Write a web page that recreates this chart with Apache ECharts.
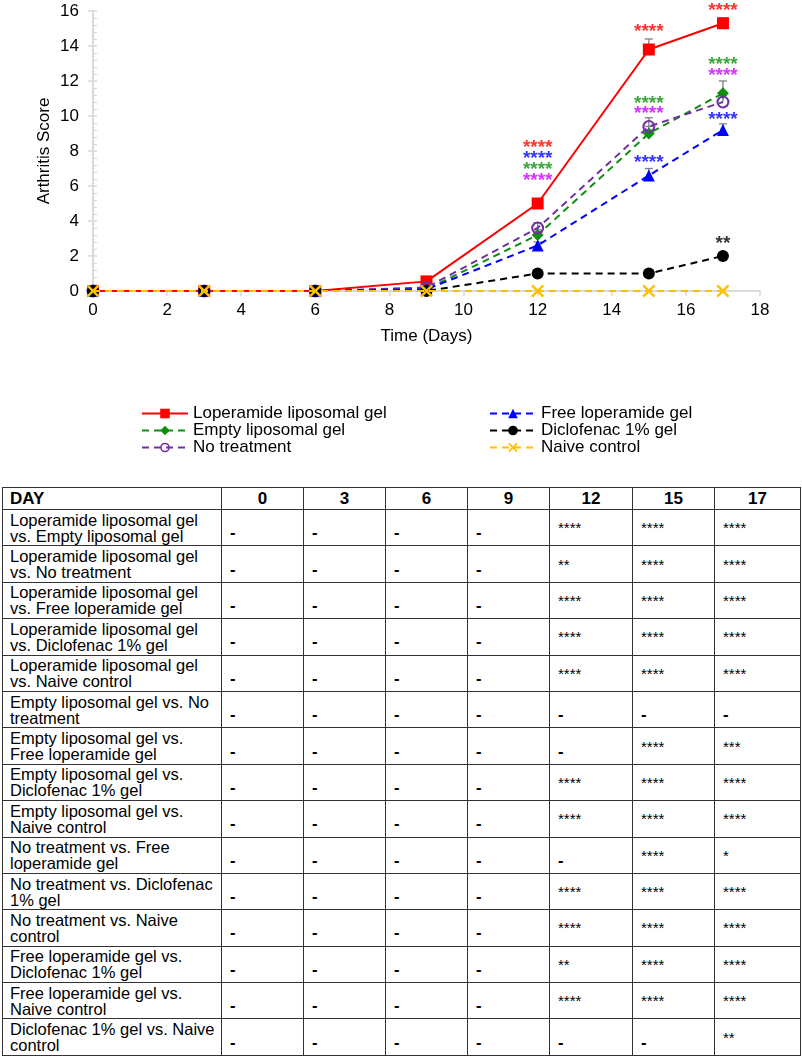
<!DOCTYPE html>
<html>
<head>
<meta charset="utf-8">
<script src="https://cdn.jsdelivr.net/npm/echarts@6/dist/echarts.min.js"></script>
<style>
  html, body { margin: 0; padding: 0; background: #fff; }
  body { width: 802px; height: 1058px; position: relative; overflow: hidden; font-family: "Liberation Sans", Arial, sans-serif; }
  #chart { position: absolute; left: 0; top: 0; width: 802px; height: 480px; }
  #tbl { position: absolute; left: 2px; top: 487px; border-collapse: collapse; table-layout: fixed; width: 798px; }
  #tbl td, #tbl th { border: 1px solid #333; padding: 0; font-size: 16.5px; color: #000; }
  #tbl th { height: 21px; font-weight: bold; text-align: center; font-size: 17px; line-height: 17px; }
  #tbl th.first { text-align: left; padding-left: 7px; }
  #tbl td { height: 35.4px; vertical-align: middle; padding-left: 8px; }
  #tbl td.first { white-space: pre-line; line-height: 16px; padding-left: 7px; }
  #tbl td.v { padding-left: 8px; line-height: 17px; }
  #tbl td.v span { position: relative; top: 5px; font-weight: bold; }
  #tbl td.v span.star { top: 0px; font-size: 15px; font-weight: normal; }
</style>
</head>
<body>
<div id="chart"></div>
<table id="tbl"></table>
<script>
// ---------- data ----------
const days = [0, 3, 6, 9, 12, 15, 17];
const seriesNames = ['Loperamide liposomal gel', 'Empty liposomal gel', 'No treatment',
  'Free loperamide gel', 'Diclofenac 1% gel', 'Naive control'];
const lopLipo   = [0, 0, 0, 0.55, 5.0, 13.8, 15.3];
const emptyLipo = [0, 0, 0, 0.1, 3.2, 9.0, 11.3];
const noTreat   = [0, 0, 0, 0.2, 3.6, 9.4, 10.8];
const freeLop   = [0, 0, 0, 0.1, 2.6, 6.6, 9.2];
const diclo     = [0, 0, 0, 0, 1.0, 1.0, 2.0];
const naive     = [0, 0, 0, 0, 0, 0, 0];
// upper error (SEM)
const lopLipoErr   = [0, 0, 0, 0.1, 0.2, 0.6, 0.3];
const emptyLipoErr = [0, 0, 0, 0.1, 0.3, 0.4, 0.7];
const noTreatErr   = [0, 0, 0, 0.1, 0.3, 0.5, 0.4];
const freeLopErr   = [0, 0, 0, 0.1, 0.2, 0.4, 0.35];
const dicloErr     = [0, 0, 0, 0, 0, 0, 0];
const naiveErr     = [0, 0, 0, 0, 0, 0, 0];
const xTicks = [0, 2, 4, 6, 8, 10, 12, 14, 16, 18];
const yTicks = [0, 2, 4, 6, 8, 10, 12, 14, 16];
// significance annotations: [group, day, level, text]
const sigMarks = [
  ['lop', 12, 8.44, '****'], ['free', 12, 7.8, '****'], ['empty', 12, 7.15, '****'], ['none', 12, 6.52, '****'],
  ['lop', 15, 15.03, '****'], ['empty', 15, 10.94, '****'], ['none', 15, 10.35, '****'], ['free', 15, 7.55, '****'],
  ['lop', 17, 16.27, '****'], ['empty', 17, 13.13, '****'], ['none', 17, 12.55, '****'], ['free', 17, 10.0, '****'],
  ['diclo', 17, 2.9, '**']
];
// table
const tableDays = ['0', '3', '6', '9', '12', '15', '17'];
const comparisons = [
  'Loperamide liposomal gel\nvs. Empty liposomal gel',
  'Loperamide liposomal gel\nvs. No treatment',
  'Loperamide liposomal gel\nvs. Free loperamide gel',
  'Loperamide liposomal gel\nvs. Diclofenac 1% gel',
  'Loperamide liposomal gel\nvs. Naive control',
  'Empty liposomal gel vs. No\ntreatment',
  'Empty liposomal gel vs.\nFree loperamide gel',
  'Empty liposomal gel vs.\nDiclofenac 1% gel',
  'Empty liposomal gel vs.\nNaive control',
  'No treatment vs. Free\nloperamide gel',
  'No treatment vs. Diclofenac\n1% gel',
  'No treatment vs. Naive\ncontrol',
  'Free loperamide gel vs.\nDiclofenac 1% gel',
  'Free loperamide gel vs.\nNaive control',
  'Diclofenac 1% gel vs. Naive\ncontrol'
];
const significance = [
  ['-', '-', '-', '-', '****', '****', '****'],
  ['-', '-', '-', '-', '**', '****', '****'],
  ['-', '-', '-', '-', '****', '****', '****'],
  ['-', '-', '-', '-', '****', '****', '****'],
  ['-', '-', '-', '-', '****', '****', '****'],
  ['-', '-', '-', '-', '-', '-', '-'],
  ['-', '-', '-', '-', '-', '****', '***'],
  ['-', '-', '-', '-', '****', '****', '****'],
  ['-', '-', '-', '-', '****', '****', '****'],
  ['-', '-', '-', '-', '-', '****', '*'],
  ['-', '-', '-', '-', '****', '****', '****'],
  ['-', '-', '-', '-', '****', '****', '****'],
  ['-', '-', '-', '-', '**', '****', '****'],
  ['-', '-', '-', '-', '****', '****', '****'],
  ['-', '-', '-', '-', '-', '-', '**']
];

// ---------- styles ----------
const FONT = '"Liberation Sans", Arial, sans-serif';
const values = [lopLipo, emptyLipo, noTreat, freeLop, diclo, naive];
const errs = [lopLipoErr, emptyLipoErr, noTreatErr, freeLopErr, dicloErr, naiveErr];
const colors = ['#ff0000', '#109010', '#7030a0', '#0000ff', '#000000', '#ffc000'];
const sigColors = { lop: '#ff0000', empty: '#109010', none: '#cc00ff', free: '#0000ff', diclo: '#000000' };
const xPath = 'path://M0,1.3L1.3,0L5,3.7L8.7,0L10,1.3L6.3,5L10,8.7L8.7,10L5,6.3L1.3,10L0,8.7L3.7,5Z';
const ringPath = 'path://M50,0A50,50,0,1,1,49.99,0ZM50,16A34,34,0,1,0,50.01,16Z';
const symbols = ['rect', 'diamond', ringPath, 'triangle', 'circle', xPath];
const symSizes = [12, 12, 13, 12, 12, 13];
const dashes = ['solid', [7, 5], [7, 5], [7, 5], [7, 5], [7, 5]];
const GRAY = '#d9d9d9';

const chart = echarts.init(document.getElementById('chart'), null, { renderer: 'canvas' });

const lineSeries = seriesNames.map((name, i) => ({
  name, type: 'line', z: 3 + i,
  data: days.map((d, k) => [d, values[i][k]]),
  symbol: symbols[i], symbolSize: symSizes[i], symbolKeepAspect: true,
  showSymbol: true, showAllSymbol: true,
  lineStyle: { color: colors[i], width: 2, type: dashes[i] },
  itemStyle: { color: colors[i] },
  emphasis: { disabled: true },
  animation: false
}));

const errSeries = {
  type: 'custom', z: 2, silent: true, animation: false,
  data: [].concat(...values.map((v, i) => days.map((d, k) => [d, v[k], errs[i][k]]))),
  renderItem: (params, api) => {
    const x = api.value(0), y = api.value(1), e = api.value(2);
    if (!e) return null;
    const p0 = api.coord([x, y]), p1 = api.coord([x, y + e]);
    const st = { stroke: '#7f7f7f', lineWidth: 1.3 };
    return { type: 'group', children: [
      { type: 'line', shape: { x1: p0[0], y1: p0[1], x2: p1[0], y2: p1[1] }, style: st },
      { type: 'line', shape: { x1: p1[0] - 4, y1: p1[1], x2: p1[0] + 4, y2: p1[1] }, style: st }
    ] };
  }
};

const sigSeries = {
  type: 'scatter', z: 10, silent: true, animation: false, clip: false,
  symbol: 'circle', symbolSize: 1, itemStyle: { color: 'rgba(0,0,0,0)' },
  data: sigMarks.map(m => ({
    value: [m[1], m[2]],
    label: { show: true, formatter: m[3], color: sigColors[m[0]], position: 'inside',
             fontSize: 19, fontWeight: 'bold', fontFamily: FONT, offset: [0, 4] }
  }))
};

const axisNameStyle = { fontSize: 17, fontFamily: FONT, color: '#000' };

chart.setOption({
  backgroundColor: '#fff',
  animation: false,
  grid: { left: 93, right: 42, top: 11, height: 280 },
  legend: [
    { data: seriesNames.slice(0, 3), orient: 'vertical', left: 136, top: 400, itemWidth: 46, itemHeight: 12, itemGap: 0,
      textStyle: { fontSize: 17, fontFamily: FONT, color: '#000' }, selectedMode: false },
    { data: seriesNames.slice(3), orient: 'vertical', left: 484, top: 400, itemWidth: 46, itemHeight: 12, itemGap: 0,
      textStyle: { fontSize: 17, fontFamily: FONT, color: '#000' }, selectedMode: false }
  ],
  xAxis: {
    type: 'value', min: 0, max: 18, interval: 2,
    name: 'Time (Days)', nameLocation: 'middle', nameGap: 37, nameTextStyle: axisNameStyle,
    nameMoveOverlap: false,
    axisLine: { show: true, onZero: false, lineStyle: { color: GRAY, width: 2 } },
    axisTick: { show: true, length: 5, lineStyle: { color: GRAY, width: 1.5 } },
    axisLabel: { fontSize: 17, fontFamily: FONT, color: '#000', margin: 11,
                 formatter: v => xTicks.includes(v) ? String(v) : '' },
    splitLine: { show: false }
  },
  yAxis: [
    {
      type: 'value', min: 0, max: 16, interval: 2,
      name: 'Arthritis Score', nameLocation: 'middle', nameGap: 40, nameTextStyle: axisNameStyle,
      nameMoveOverlap: false,
      axisLine: { show: true, lineStyle: { color: GRAY, width: 2 } },
      axisTick: { show: true, length: 5, lineStyle: { color: GRAY, width: 1.5 } },
      axisLabel: { fontSize: 17, fontFamily: FONT, color: '#000', margin: 14,
                   formatter: v => yTicks.includes(v) ? String(v) : '' },
      splitLine: { show: false }
    },
    {
      type: 'value', min: 0, max: 16, interval: 2, position: 'left',
      axisLine: { show: false },
      axisTick: { show: true, inside: true, length: 4, lineStyle: { color: GRAY, width: 1.5 } },
      minorTick: { show: true, splitNumber: 5, length: 4, lineStyle: { color: GRAY, width: 1.2 } },
      axisLabel: { show: false }, splitLine: { show: false }
    }
  ],
  series: [errSeries, ...lineSeries, sigSeries]
});

// ---------- table ----------
const tbl = document.getElementById('tbl');
const widths = [219, 82, 82, 82, 82, 83, 82, 86];
let html = '<colgroup>' + widths.map(w => `<col style="width:${w}px">`).join('') + '</colgroup>';
html += '<tr><th class="first">DAY</th>' + tableDays.map(d => `<th>${d}</th>`).join('') + '</tr>';
comparisons.forEach((c, r) => {
  html += `<tr><td class="first">${c}</td>` + significance[r].map(s =>
    `<td class="v"><span class="${s === '-' ? '' : 'star'}">${s}</span></td>`).join('') + '</tr>';
});
tbl.innerHTML = html;
</script>
</body>
</html>
